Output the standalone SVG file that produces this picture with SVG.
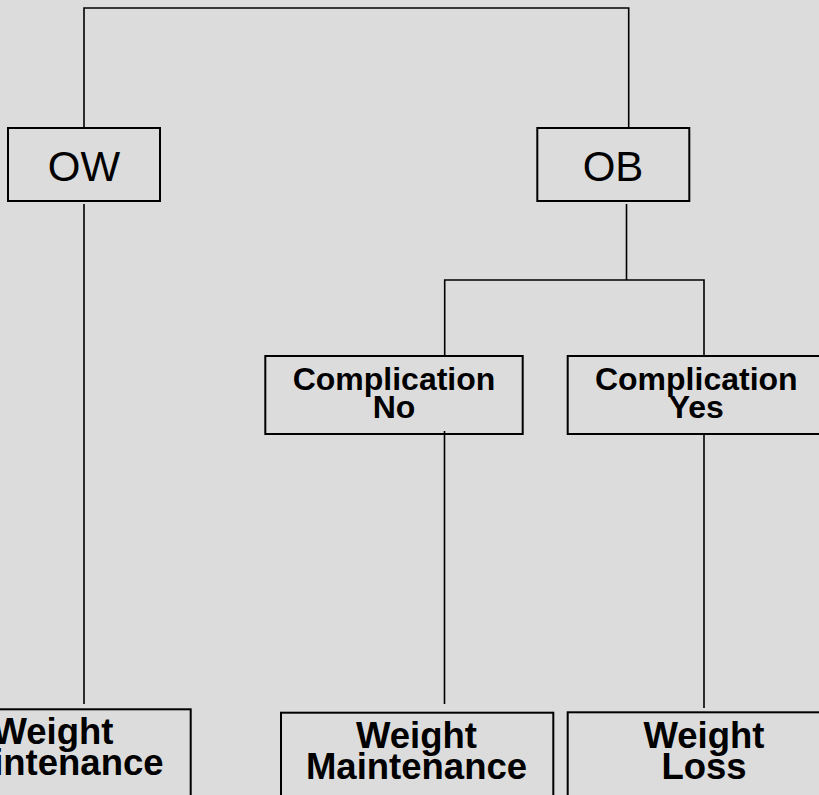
<svg xmlns="http://www.w3.org/2000/svg" width="819" height="795" viewBox="0 0 819 795">
<style>
.bg{fill:#dcdcdc}
.box{fill:none;stroke:#000;stroke-width:2}
.ln{fill:none;stroke:#000;stroke-width:1.6}
.t1{font-family:"Liberation Sans",Arial,sans-serif;font-size:42px;fill:#000;text-anchor:middle}
.t2{font-family:"Liberation Sans",Arial,sans-serif;font-size:32px;font-weight:bold;fill:#000;text-anchor:middle}
.t3{font-family:"Liberation Sans",Arial,sans-serif;font-size:36.5px;font-weight:bold;fill:#000;text-anchor:middle}
</style>
<rect class="bg" x="0" y="0" width="819" height="795"/>
<g id="connectors">
<polyline class="ln" points="84,128 84,8 628.7,8 628.7,128"/>
<line class="ln" x1="84" y1="204" x2="84" y2="704"/>
<line class="ln" x1="626.5" y1="204" x2="626.5" y2="280"/>
<polyline class="ln" points="444.7,356 444.7,280 704,280 704,356"/>
<line class="ln" x1="444.5" y1="431" x2="444.5" y2="704"/>
<line class="ln" x1="704" y1="434" x2="704" y2="708"/>
</g>
<g id="ow">
<rect class="box" x="8" y="128" width="152" height="73"/>
<text class="t1" x="84" y="181">OW</text>
</g>
<g id="ob">
<rect class="box" x="537.3" y="128" width="152" height="73"/>
<text class="t1" x="613" y="181">OB</text>
</g>
<g id="comp-no">
<rect class="box" x="265.3" y="356" width="257.4" height="78"/>
<text class="t2" x="394" y="390">Complication</text>
<text class="t2" x="394" y="418">No</text>
</g>
<g id="comp-yes">
<rect class="box" x="567.7" y="356" width="258" height="78"/>
<text class="t2" x="696.3" y="390">Complication</text>
<text class="t2" x="696.3" y="418">Yes</text>
</g>
<g id="wm-ow">
<rect class="box" x="-81" y="709.3" width="271.7" height="120"/>
<text class="t3" x="53" y="744">Weight</text>
<text class="t3" x="53" y="775">Maintenance</text>
</g>
<g id="wm-no">
<rect class="box" x="281" y="712.7" width="272.3" height="120"/>
<text class="t3" x="416.5" y="748.3">Weight</text>
<text class="t3" x="416.5" y="779">Maintenance</text>
</g>
<g id="wl-yes">
<rect class="box" x="567.7" y="712.3" width="272" height="120"/>
<text class="t3" x="704" y="748.3">Weight</text>
<text class="t3" x="704" y="779">Loss</text>
</g>
</svg>
